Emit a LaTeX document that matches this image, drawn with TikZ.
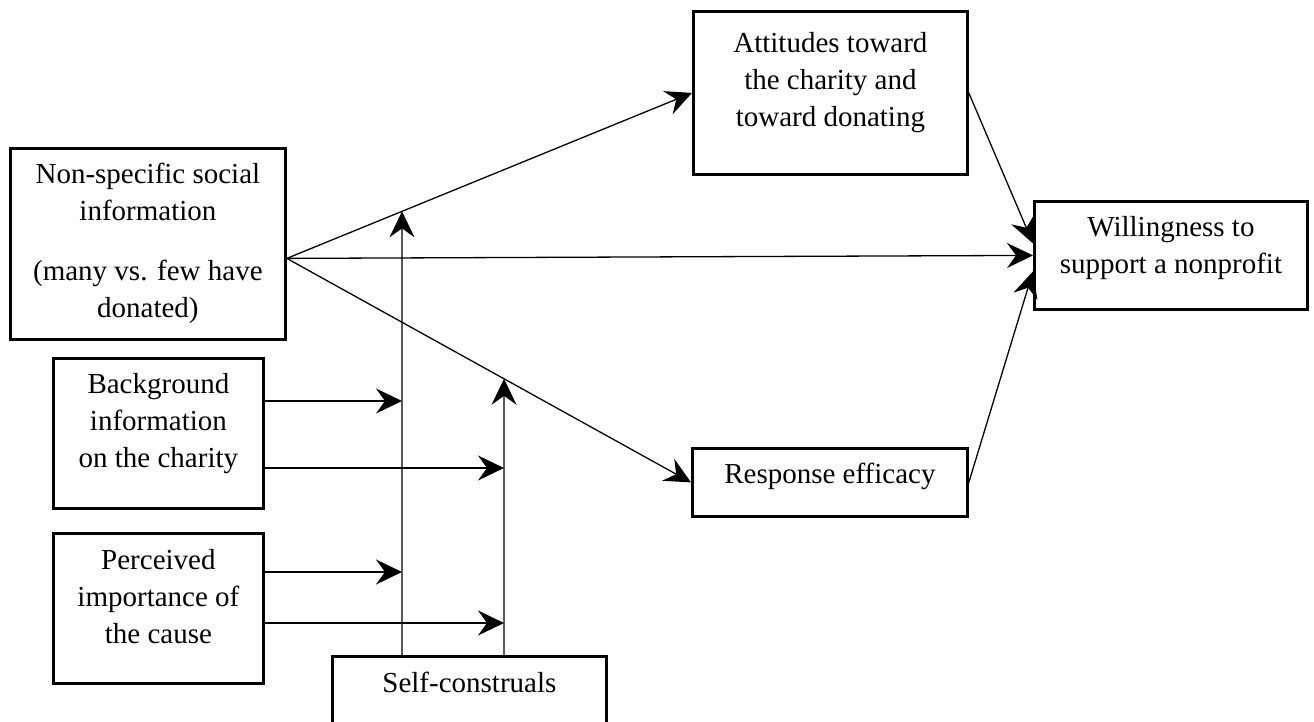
\documentclass[tikz,border=0pt]{standalone}
\usepackage{fontspec}
\setmainfont{Liberation Serif}
\usetikzlibrary{arrows.meta,calc}
\begin{document}
\begin{tikzpicture}[x=1pt,y=-1pt,
  box/.style={draw,line width=2.8pt,inner sep=0pt,anchor=north west},
  lbl/.style={align=center,anchor=base,inner sep=0pt,font=\fontsize{29}{37}\selectfont},
  arr/.style={line width=1.3pt,-{Stealth[length=26pt,width=25pt,inset=9pt]}}]
\useasboundingbox (0,0) rectangle (1314,722);

% boxes; each label is placed by the baseline of its last line
\node[box,minimum width=275pt,minimum height=191pt] (ns) at (9,147) {};
\node[lbl] (nsT) at ($(ns.north)+(0,170)$) {Non-specific social\\information\\[23pt](many vs. few have\\donated)};

\node[box,minimum width=210pt,minimum height=150pt] (bg) at (52,357) {};
\node[lbl] (bgT) at ($(bg.north)+(0,110)$) {Background\\information\\on the charity};

\node[box,minimum width=210pt,minimum height=150pt] (pi) at (52,532) {};
\node[lbl] (piT) at ($(pi.north)+(0,111)$) {Perceived\\importance of\\the cause};

\node[box,minimum width=274pt,minimum height=110pt] (sc) at (331,655) {};
\node[lbl] (scT) at ($(sc.north)+(0,37)$) {Self-construals};

\node[box,minimum width=274pt,minimum height=163pt] (att) at (692,10) {};
\node[lbl] (attT) at ($(att.north)+(0,117)$) {Attitudes toward\\the charity and\\toward donating};

\node[box,minimum width=275pt,minimum height=68pt] (re) at (691,447) {};
\node[lbl] (reT) at ($(re.north)+(0,36)$) {Response efficacy};

\node[box,minimum width=273pt,minimum height=108pt] (wil) at (1033,200) {};
\node[lbl] (wilT) at ($(wil.north)+(0,73)$) {Willingness to\\support a nonprofit};

% helper coordinates
\coordinate (s) at ($(ns.east)+(0,14.5)$);
\coordinate (v1) at ($(sc.north west)+(71,0)$);
\coordinate (v2) at ($(sc.north west)+(173,0)$);
\coordinate (v1t) at (v1 |- 0,0);
\coordinate (v2t) at (v2 |- 0,0);
\coordinate (m1) at (intersection of s--att.west and v1--v1t);
\coordinate (m2) at (intersection of s--re.west and v2--v2t);

% main paths
\draw[arr] (s) -- (att.west);
\draw[arr] (s) -- (wil.west);
\draw[arr] (s) -- (re.west);
\draw[arr] (att.east) -- ($(wil.west)+(0,-12)$);
\draw[arr] (re.east) -- ($(wil.west)+(0,16)$);

% moderators
\draw[arr] (v1) -- (m1);
\draw[arr] (v2) -- (m2);
\draw[arr] (bg.east |- 0,401) -- (v1 |- 0,401);
\draw[arr] (bg.east |- 0,468) -- (v2 |- 0,468);
\draw[arr] (pi.east |- 0,572) -- (v1 |- 0,572);
\draw[arr] (pi.east |- 0,623) -- (v2 |- 0,623);
\end{tikzpicture}
\end{document}
